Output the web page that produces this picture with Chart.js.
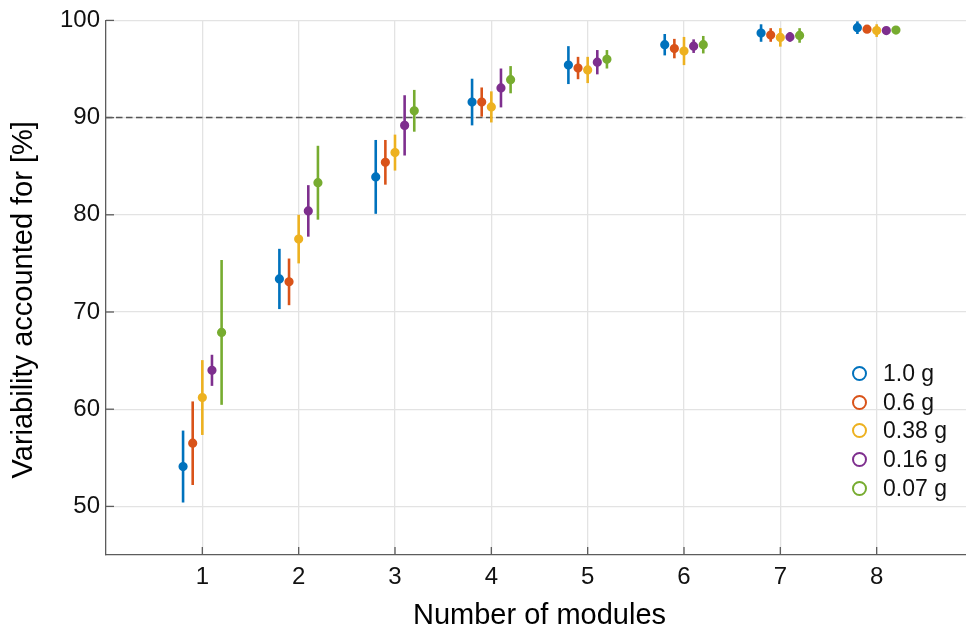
<!DOCTYPE html>
<html>
<head>
<meta charset="utf-8">
<script src="https://cdn.jsdelivr.net/npm/chart.js@4"></script>
<style>
  body { margin: 0; overflow: hidden; background: #fff; }
  #wrap { position: relative; width: 980px; height: 635px; }
  #legend { position: absolute; left: 852px; top: 359px; font-family: "Liberation Sans", Arial, sans-serif; font-size: 23px; color: #111; }
  .item { height: 28.8px; display: flex; align-items: center; }
  .dot { width: 11px; height: 11px; border: 2px solid; border-radius: 50%; margin-right: 16px; box-sizing: content-box; }
</style>
</head>
<body>
<div id="wrap">
  <canvas id="chart" width="980" height="635"></canvas>
  <div id="legend"></div>
</div>
<script>
// data
const modules = [1, 2, 3, 4, 5, 6, 7, 8];
const seriesNames = ['1.0 g', '0.6 g', '0.38 g', '0.16 g', '0.07 g'];
const colors = ['#0072BD', '#D95319', '#EDB120', '#7E2F8E', '#77AC30'];

const mean10 = [54.1, 73.4, 83.9, 91.6, 95.4, 97.5, 98.7, 99.25];
const mean06 = [56.5, 73.1, 85.4, 91.6, 95.1, 97.1, 98.5, 99.1];
const mean038 = [61.2, 77.5, 86.4, 91.1, 94.9, 96.85, 98.25, 98.95];
const mean016 = [64.0, 80.4, 89.2, 93.05, 95.7, 97.35, 98.3, 98.95];
const mean007 = [67.9, 83.3, 90.7, 93.9, 96.0, 97.5, 98.45, 99.0];

const err10 = [3.7, 3.1, 3.8, 2.4, 1.95, 1.1, 0.9, 0.65];
const err06 = [4.3, 2.4, 2.3, 1.5, 1.15, 1.0, 0.7, 0.3];
const err038 = [3.85, 2.5, 1.85, 1.6, 1.35, 1.45, 0.95, 0.65];
const err016 = [1.6, 2.65, 3.1, 2.0, 1.25, 0.7, 0.5, 0.3];
const err007 = [7.45, 3.8, 2.15, 1.4, 0.95, 0.9, 0.75, 0.3];

const yTicks = [50, 60, 70, 80, 90, 100];
const threshold = 90;

const means = [mean10, mean06, mean038, mean016, mean007];
const errs = [err10, err06, err038, err016, err007];

const font = "'Liberation Sans', Arial, sans-serif";
const axisColor = '#5c5c5c';

const datasets = seriesNames.map((name, i) => ({
  label: name,
  data: modules.map((m, j) => ({ x: m + (i - 2) * 0.1, y: means[i][j], e: errs[i][j] })),
  borderColor: colors[i],
  backgroundColor: colors[i],
  pointRadius: 3.5,
  pointBorderWidth: 2.2,
  pointHoverRadius: 3.5
}));

// error bars, threshold line and inward ticks
const extras = {
  id: 'extras',
  beforeDatasetsDraw(chart) {
    const ctx = chart.ctx;
    const xs = chart.scales.x, ys = chart.scales.y;
    const area = chart.chartArea;
    ctx.save();
    // dashed line at 90
    ctx.strokeStyle = '#555';
    ctx.lineWidth = 1.5;
    ctx.setLineDash([6.5, 3.5]);
    ctx.beginPath();
    ctx.moveTo(area.left, ys.getPixelForValue(threshold));
    ctx.lineTo(area.right, ys.getPixelForValue(threshold));
    ctx.stroke();
    ctx.setLineDash([]);
    // error bars
    ctx.lineWidth = 2.6;
    chart.data.datasets.forEach(ds => {
      ctx.strokeStyle = ds.borderColor;
      ds.data.forEach(p => {
        const px = xs.getPixelForValue(p.x);
        ctx.beginPath();
        ctx.moveTo(px, ys.getPixelForValue(p.y - p.e));
        ctx.lineTo(px, ys.getPixelForValue(p.y + p.e));
        ctx.stroke();
      });
    });
    // inward tick marks
    ctx.strokeStyle = axisColor;
    ctx.lineWidth = 1.3;
    yTicks.forEach(v => {
      const py = ys.getPixelForValue(v);
      ctx.beginPath(); ctx.moveTo(area.left, py); ctx.lineTo(area.left + 8, py); ctx.stroke();
    });
    modules.forEach(v => {
      const px = xs.getPixelForValue(v);
      ctx.beginPath(); ctx.moveTo(px, area.bottom); ctx.lineTo(px, area.bottom - 8); ctx.stroke();
    });
    ctx.restore();
  }
};

new Chart(document.getElementById('chart'), {
  type: 'scatter',
  data: { datasets: datasets },
  options: {
    responsive: false,
    animation: false,
    layout: { padding: { left: 0, top: 20, right: 7, bottom: 0 } },
    plugins: {
      legend: { display: false },
      tooltip: { enabled: false }
    },
    scales: {
      x: {
        type: 'linear',
        min: 0,
        max: 9,
        afterBuildTicks: s => { s.ticks = modules.map(v => ({ value: v })); },
        afterFit: s => { s.height = 80; },
        grid: { color: '#e3e3e3', lineWidth: 1.3, drawTicks: false },
        border: { color: axisColor, width: 1.3 },
        ticks: { padding: 8, color: '#111', font: { family: font, size: 24 } },
        title: { display: true, text: 'Number of modules', color: '#000', font: { family: font, size: 29 }, padding: { top: 0, bottom: 2 } }
      },
      y: {
        min: 45,
        max: 100,
        afterBuildTicks: s => { s.ticks = yTicks.map(v => ({ value: v })); },
        afterFit: s => { s.width = 106; },
        grid: { color: '#e3e3e3', lineWidth: 1.3, drawTicks: false },
        border: { color: axisColor, width: 1.3 },
        ticks: { padding: 6, color: '#111', font: { family: font, size: 24 } },
        title: { display: true, text: 'Variability accounted for [%]   ', color: '#000', font: { family: font, size: 29 }, padding: { top: 7, bottom: 0 } }
      }
    }
  },
  plugins: [extras]
});

// legend inside the plot, lower right
const legend = document.getElementById('legend');
seriesNames.forEach((name, i) => {
  const row = document.createElement('div');
  row.className = 'item';
  const dot = document.createElement('span');
  dot.className = 'dot';
  dot.style.borderColor = colors[i];
  const label = document.createElement('span');
  label.textContent = name;
  row.appendChild(dot);
  row.appendChild(label);
  legend.appendChild(row);
});
</script>
</body>
</html>
